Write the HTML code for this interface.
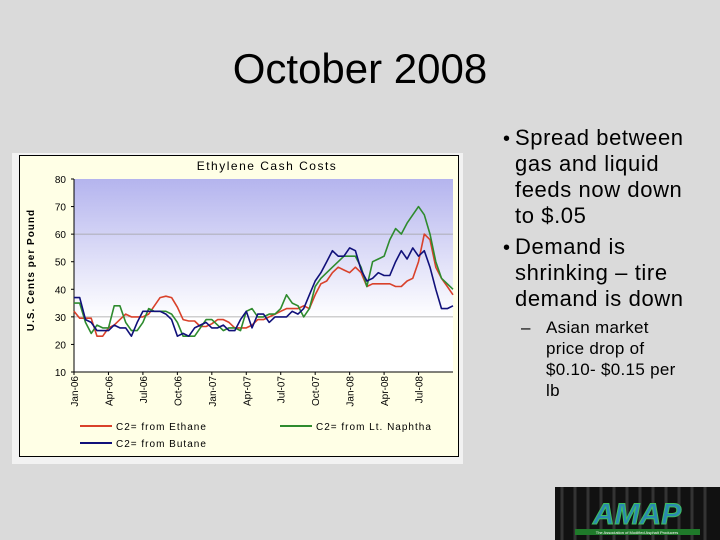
<!DOCTYPE html>
<html><head><meta charset="utf-8"><style>
html,body{margin:0;padding:0;background:#dadada;}
svg{display:block;font-family:"Liberation Sans",sans-serif;}
</style></head><body>
<svg width="720" height="540" viewBox="0 0 720 540">
<defs>
<linearGradient id="pg" x1="0" y1="0" x2="0" y2="1">
<stop offset="0" stop-color="#b4b4ee"/><stop offset="0.72" stop-color="#ffffff"/><stop offset="1" stop-color="#ffffff"/>
</linearGradient>
</defs>
<rect width="720" height="540" fill="#dadada"/>
<text x="360" y="83" text-anchor="middle" font-size="42" fill="#000">October 2008</text>

<g font-size="22" fill="#000" letter-spacing="0.6">
<text x="503" y="145" font-size="20">•</text>
<text x="515" y="145">Spread between</text>
<text x="515" y="171">gas and liquid</text>
<text x="515" y="197">feeds now down</text>
<text x="515" y="223">to $.05</text>
<text x="503" y="254" font-size="20">•</text>
<text x="515" y="254">Demand is</text>
<text x="515" y="280">shrinking – tire</text>
<text x="515" y="306">demand is down</text>
<g font-size="17" letter-spacing="0.3">
<text x="521" y="333">–</text>
<text x="546" y="333">Asian market</text>
<text x="546" y="354">price drop of</text>
<text x="546" y="375">$0.10- $0.15 per</text>
<text x="546" y="396">lb</text>
</g>
</g>

<g>
<rect x="555" y="487" width="165" height="53" fill="#111"/>
<g stroke="#333" stroke-width="3">
<line x1="562" y1="487" x2="562" y2="540"/><line x1="575" y1="487" x2="575" y2="540"/><line x1="588" y1="487" x2="588" y2="540"/><line x1="601" y1="487" x2="601" y2="540"/><line x1="614" y1="487" x2="614" y2="540"/><line x1="627" y1="487" x2="627" y2="540"/><line x1="640" y1="487" x2="640" y2="540"/><line x1="653" y1="487" x2="653" y2="540"/><line x1="666" y1="487" x2="666" y2="540"/><line x1="679" y1="487" x2="679" y2="540"/><line x1="692" y1="487" x2="692" y2="540"/><line x1="705" y1="487" x2="705" y2="540"/>
</g>
<text x="637" y="524" text-anchor="middle" font-size="30" font-weight="bold" font-style="italic" fill="#2a8ab0" stroke="#3fbf5f" stroke-width="1">AMAP</text>
<rect x="575" y="529" width="125" height="6" fill="#1f7a2a"/>
<text x="637" y="534" text-anchor="middle" font-size="4" fill="#fff">The Association of Modified Asphalt Producers</text>
</g>

<g>
<rect x="12" y="153" width="451" height="311" fill="#f2f2f2"/>
<rect x="19.5" y="155.5" width="439" height="301" fill="#ffffe6" stroke="#000" stroke-width="1"/>
<text x="267" y="170" text-anchor="middle" font-size="12" letter-spacing="1.5">Ethylene Cash Costs</text>
<g id="plot"></g>
</g>
</svg>
<script>
const months = [];
for (let i = 0; i <= 66; i++) months.push(i / 2);
const ethane = [32,29.5,29.5,29.5,23,23,26,27,29,31,30,30,30,31,34,37,37.5,37,33.5,29,28.5,28.5,26.5,26.5,27.5,29,29,28,26,26,26,27,29,29,30,31,
32,33,33,33,34,33,38,42,43,46,48,47,46,48,46,41,42,42,42,42,41,41,43,44,50,60,58,48,44,41,38];
const naphtha = [35,35,28,24,27,26,26,34,34,28,25,25,28,33,32,32,32,31,28,23,23,23,26,29,29,27,25,26,26,25,32,33,30,30,31,31,
33,38,35,34,30,33,41,44,46,48,50,52,52,52,48,41,50,51,52,58,62,60,64,67,70,67,60,50,44,42,40];
const butane = [37,37,29,28,25,25,25,27,26,26,23,28,32,32,32,32,31,29,23,24,23,26,27,28,26,26,27,25,25,29,32,26,31,31,28,30,
30,30,32,31,33,38,43,46,50,54,52,52,55,54,47,43,44,46,45,45,50,54,51,55,52,54,48,40,33,33,34];
const yTicks = [10,20,30,40,50,60,70,80];
const xLabels = ["Jan-06","Apr-06","Jul-06","Oct-06","Jan-07","Apr-07","Jul-07","Oct-07","Jan-08","Apr-08","Jul-08"];
const xLabelMonths = [0,3,6,9,12,15,18,21,24,27,30];

const X0 = 74, X1 = 453, Y0 = 372, Y1 = 179;
const xMax = 33, yMin = 10, yMax = 80;
const xs = m => X0 + (m / xMax) * (X1 - X0);
const ys = v => Y0 - (v - yMin) / (yMax - yMin) * (Y0 - Y1);
const NS = "http://www.w3.org/2000/svg";
const plot = document.getElementById("plot");
function mk(tag, attrs, parent) {
  const e = document.createElementNS(NS, tag);
  for (const k in attrs) e.setAttribute(k, attrs[k]);
  (parent || plot).appendChild(e);
  return e;
}
const bg = mk("rect", {x: X0, y: Y1, width: X1 - X0, height: Y0 - Y1, fill: "url(#pg)"});


[30, 60].forEach(v => {
  const g = mk("line", {x1: X0, x2: X1, y1: ys(v), y2: ys(v), stroke: "#a0a0a0", "stroke-width": 0.8});
  
  
});
const ax = mk("path", {d: `M${X0},${Y1}V${Y0}H${X1}`, fill: "none", stroke: "#000", "stroke-width": 1});


yTicks.forEach(v => {
  const t = mk("text", {x: X0 - 8, y: ys(v) + 4, "text-anchor": "end", "font-size": 10, fill: "#000"});
  t.textContent = v;
  
  
  mk("line", {x1: X0 - 3, x2: X0, y1: ys(v), y2: ys(v), stroke: "#000"});
});
xLabels.forEach((lab, i) => {
  const x = xs(xLabelMonths[i]);
  mk("line", {x1: x, x2: x, y1: Y0, y2: Y0 + 3, stroke: "#000"});
  const t = mk("text", {x: x + 4, y: Y0 + 4, "text-anchor": "end", "font-size": 10, transform: `rotate(-90 ${x + 4} ${Y0 + 4})`, fill: "#000"});
  t.textContent = lab;
  
  
});
const yt = mk("text", {x: 34, y: 270, "text-anchor": "middle", "font-size": 10, "font-weight": "bold", "letter-spacing": 1, transform: "rotate(-90 34 270)"});
yt.textContent = "U.S. Cents per Pound";


const series = [[ethane, "#d9412a", "ethane"], [naphtha, "#2e8b2e", "naphtha"], [butane, "#10107a", "butane"]];
series.forEach(([vals, col, nm]) => {
  const d = vals.map((v, i) => (i ? "L" : "M") + xs(months[i]).toFixed(1) + "," + ys(v).toFixed(1)).join("");
  const p = mk("path", {d, fill: "none", stroke: col, "stroke-width": 1.6, "stroke-linejoin": "round"});
  
  
});
const legend = [["C2= from Ethane", "#d9412a", 80, 426], ["C2= from Lt. Naphtha", "#2e8b2e", 280, 426], ["C2= from Butane", "#10107a", 80, 443]];
legend.forEach(([lab, col, x, y]) => {
  const g = mk("g", {});
  
  
  mk("line", {x1: x, x2: x + 32, y1: y, y2: y, stroke: col, "stroke-width": 2}, g);
  const t = mk("text", {x: x + 36, y: y + 4, "font-size": 10, "letter-spacing": 1}, g);
  t.textContent = lab;
});
</script>
</body></html>
